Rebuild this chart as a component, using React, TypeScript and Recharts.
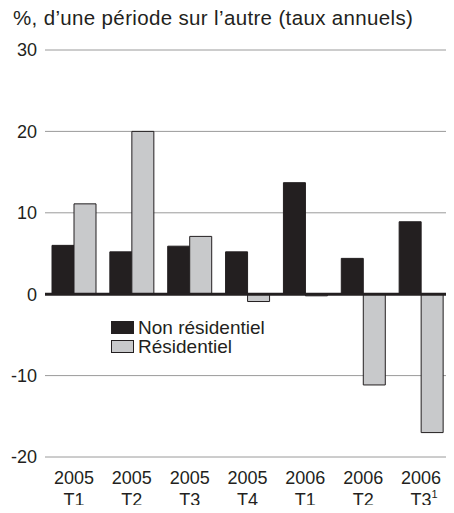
import {
  BarChart,
  Bar,
  XAxis,
  YAxis,
  CartesianGrid,
  ReferenceLine,
} from 'recharts';

const years = ['2005', '2005', '2005', '2005', '2006', '2006', '2006'];
const quarters = ['T1', 'T2', 'T3', 'T4', 'T1', 'T2', 'T3'];
const notes = ['', '', '', '', '', '', '1'];
const nonResidentiel = [6.0, 5.2, 5.9, 5.2, 13.7, 4.4, 8.9];
const residentiel = [11.1, 20.0, 7.1, -0.9, -0.2, -11.15, -17.0];
const yTicks = [-20, -10, 0, 10, 20, 30];

const FONT = '"Liberation Sans", Arial, Helvetica, sans-serif';
const DARK = '#231f20';
const GREY = '#c8c9cb';

const data = years.map((annee, i) => ({
  periode: `${annee} ${quarters[i]}`,
  annee,
  trimestre: quarters[i],
  note: notes[i],
  nonResidentiel: nonResidentiel[i],
  residentiel: residentiel[i],
}));

const PeriodTick = (props: any) => {
  const { x, y, index } = props;
  const row = data[index];
  return (
    <g transform={`translate(${x},${y})`}>
      <text x={0} y={19} textAnchor="middle" fontSize={18} fill={DARK} fontFamily={FONT}>
        {row.annee}
      </text>
      <text x={row.note ? 3 : 0} y={41} textAnchor="middle" fontSize={18} fill={DARK} fontFamily={FONT}>
        {row.trimestre}
        {row.note && (
          <tspan fontSize={11} dy={-8}>
            {row.note}
          </tspan>
        )}
      </text>
    </g>
  );
};

const legendItems = [
  { label: 'Non résidentiel', color: DARK },
  { label: 'Résidentiel', color: GREY },
];

export default function App() {
  return (
    <div style={{ position: 'relative', width: 454, height: 513, margin: -8, background: '#fff' }}>
      <div
        style={{
          position: 'absolute',
          left: 13,
          top: 7,
          fontFamily: FONT,
          fontSize: 20.5,
          letterSpacing: 0.35,
          color: DARK,
          whiteSpace: 'nowrap',
          lineHeight: '22px',
        }}
      >
        %, d’une période sur l’autre (taux annuels)
      </div>
      <BarChart
        width={454}
        height={513}
        data={data}
        margin={{ top: 50, right: 4, left: 0, bottom: 0 }}
        barCategoryGap={7}
        barGap={0}
      >
        <CartesianGrid vertical={false} stroke="#9a9a9a" strokeWidth={1} />
        <XAxis
          dataKey="periode"
          axisLine={false}
          tickLine={false}
          height={56}
          interval={0}
          tick={<PeriodTick />}
        />
        <YAxis
          width={45}
          domain={[-20, 30]}
          ticks={yTicks}
          axisLine={false}
          tickLine={false}
          tick={{ fontSize: 18, fill: DARK, fontFamily: FONT }}
        />
        <Bar
          dataKey="nonResidentiel"
          name="Non résidentiel"
          fill={DARK}
          stroke={DARK}
          strokeWidth={1}
          isAnimationActive={false}
        />
        <Bar
          dataKey="residentiel"
          name="Résidentiel"
          fill={GREY}
          stroke={DARK}
          strokeWidth={1}
          isAnimationActive={false}
        />
        <ReferenceLine y={0} stroke={DARK} strokeWidth={3} />
      </BarChart>
      <div
        style={{
          position: 'absolute',
          left: 111,
          top: 318,
          fontFamily: FONT,
          fontSize: 19,
          color: DARK,
          lineHeight: '19px',
        }}
      >
        {legendItems.map((item) => (
          <div key={item.label} style={{ display: 'flex', alignItems: 'center' }}>
            <span
              style={{
                width: 21,
                height: 11,
                background: item.color,
                border: `1px solid ${DARK}`,
                marginRight: 4,
              }}
            />
            {item.label}
          </div>
        ))}
      </div>
    </div>
  );
}
